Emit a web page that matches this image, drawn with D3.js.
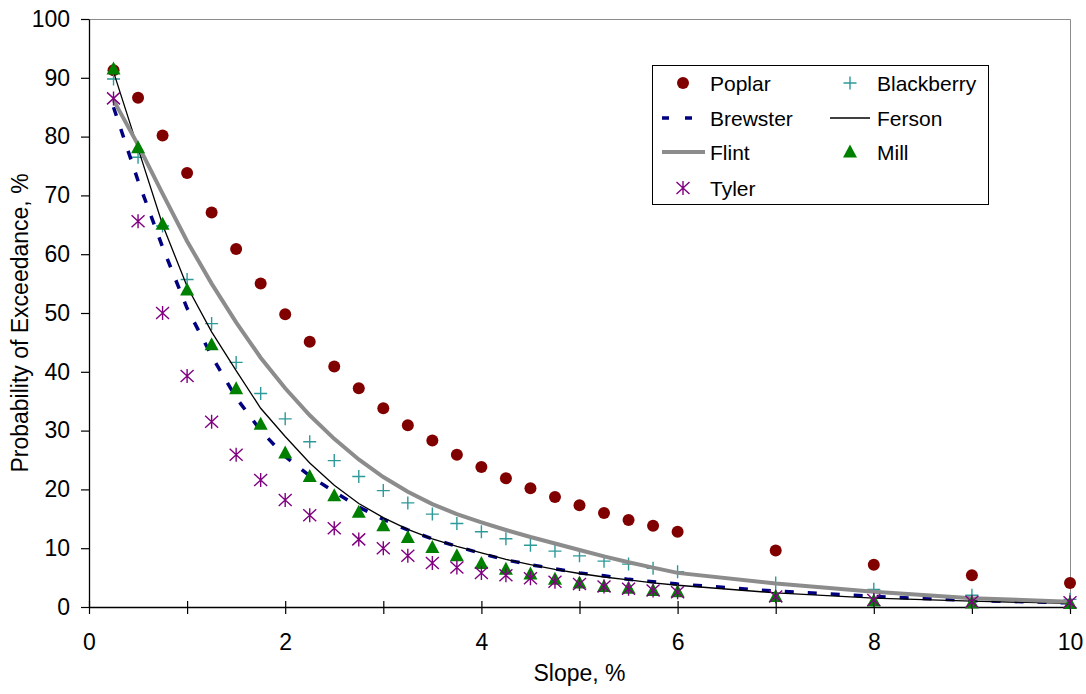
<!DOCTYPE html>
<html>
<head>
<meta charset="utf-8">
<script src="https://cdn.jsdelivr.net/npm/d3@7"></script>
<style>
	body { margin: 0; background: #fff; }
	svg { display: block; font-family: "Liberation Sans", Arial, sans-serif; }
</style>
</head>
<body>
<div id="graphicContainer"></div>
<script>

var slope = [0.25, 0.5, 0.75, 1, 1.25, 1.5, 1.75, 2, 2.25, 2.5, 2.75, 3, 3.25, 3.5, 3.75, 4, 4.25, 4.5, 4.75, 5, 5.25, 5.5, 5.75, 6, 7, 8, 9, 10]

var poplar = [91.3, 86.6, 80.2, 73.8, 67.1, 60.9, 55.0, 49.8, 45.1, 40.9, 37.2, 33.8, 30.9, 28.3, 25.9, 23.8, 21.9, 20.2, 18.7, 17.3, 16.0, 14.8, 13.8, 12.8, 9.6, 7.2, 5.4, 4.1]
var blackberry = [89.8, 76.5, 64.8, 55.7, 48.2, 41.6, 36.3, 32.0, 28.1, 24.9, 22.2, 19.8, 17.7, 15.8, 14.2, 12.8, 11.6, 10.5, 9.5, 8.7, 7.8, 7.3, 6.6, 6.0, 4.1, 3.0, 2.0, 1.3]
var brewster = [85.0, 72.5, 61.2, 50.8, 42.7, 35.6, 30.0, 25.6, 22.3, 19.6, 17.0, 14.9, 13.1, 11.6, 10.3, 9.1, 8.0, 7.2, 6.5, 5.8, 5.3, 4.7, 4.3, 3.9, 2.7, 1.8, 1.1, 0.7]
var ferson = [91.0, 78.0, 65.0, 54.5, 46.8, 40.2, 33.8, 29.0, 24.5, 20.7, 17.6, 15.2, 13.2, 11.6, 10.3, 9.2, 8.1, 7.2, 6.4, 5.7, 5.1, 4.6, 4.1, 3.7, 2.4, 1.5, 1.0, 0.6]
var flint = [86.2, 78.6, 70.3, 62.2, 55.0, 48.4, 42.4, 37.2, 32.6, 28.6, 25.1, 22.1, 19.6, 17.5, 15.8, 14.4, 13.1, 11.9, 10.8, 9.7, 8.6, 7.6, 6.7, 5.8, 4.0, 2.6, 1.5, 0.9]
var mill = [91.5, 78.1, 65.1, 53.9, 44.6, 37.1, 31.1, 26.2, 22.2, 18.9, 16.1, 13.8, 11.8, 10.1, 8.7, 7.4, 6.4, 5.6, 4.7, 4.1, 3.5, 3.2, 2.8, 2.6, 1.8, 1.0, 0.7, 0.6]
var tyler = [86.5, 65.6, 50.0, 39.3, 31.5, 25.9, 21.6, 18.2, 15.6, 13.4, 11.5, 10.0, 8.7, 7.5, 6.7, 5.8, 5.4, 4.9, 4.3, 3.9, 3.5, 3.1, 2.8, 2.5, 1.8, 1.2, 0.9, 0.8]

var yTicks = [0, 10, 20, 30, 40, 50, 60, 70, 80, 90, 100]
var xTicks = [0, 1, 2, 3, 4, 5, 6, 7, 8, 9, 10]

var width = 1086,
	height = 694
var margin = {top: 19, right: 16, bottom: 87, left: 89}

var svg = d3.select("#graphicContainer").append("svg")
	.attr("width", width)
	.attr("height", height)

var x = d3.scaleLinear()
	.domain([0, 10])
	.range([margin.left, width - margin.right])

var y = d3.scaleLinear()
	.domain([0, 100])
	.range([height - margin.bottom, margin.top])

// grey frame on top and right of the plot area
svg.append("path")
	.attr("fill", "none")
	.attr("stroke", "#8c8c8c")
	.attr("stroke-width", 1)
	.attr("d", `M${x(0)},${y(100) + 0.5}H${x(10) + 0.5}V${y(0)}`)

var yAxis = svg.append("g")
	.attr("transform", `translate(${x(0)},0)`)
	.call(d3.axisLeft(y).tickValues(yTicks).tickSize(8).tickPadding(11).tickSizeOuter(0))

yAxis.selectAll("text").attr("font-size", 23).attr("font-family", "Liberation Sans, Arial, sans-serif").attr("fill", "#000")
yAxis.select(".domain").attr("stroke", "#000").attr("stroke-width", 1.3)
yAxis.selectAll(".tick line").attr("stroke", "#000").attr("stroke-width", 1.2)

var xAxis = svg.append("g")
	.attr("transform", `translate(0,${y(0)})`)
	.call(d3.axisBottom(x).tickValues(xTicks).tickSize(7).tickPadding(20).tickSizeOuter(0)
		.tickFormat(d => d % 2 === 0 ? d : ""))

xAxis.selectAll("text").attr("font-size", 23).attr("font-family", "Liberation Sans, Arial, sans-serif").attr("fill", "#000")
xAxis.select(".domain").attr("stroke", "#000").attr("stroke-width", 1.3)
xAxis.selectAll(".tick line").attr("y1", -6).attr("stroke", "#000").attr("stroke-width", 1.2)

svg.append("text")
	.attr("x", (x(0) + x(10)) / 2)
	.attr("y", 681)
	.attr("text-anchor", "middle")
	.attr("font-size", 23)
	.text("Slope, %")

svg.append("text")
	.attr("transform", `translate(28,${(y(0) + y(100)) / 2 + 10}) rotate(-90)`)
	.attr("text-anchor", "middle")
	.attr("font-size", 23)
	.text("Probability of Exceedance, %")

var series = d => slope.map((s, i) => ({x: s, y: d[i]}))

var line = d3.line()
	.x(d => x(d.x))
	.y(d => y(d.y))

var plot = svg.append("g")

// symbol helpers
function circle(g, px, py) {
	g.append("circle").attr("cx", px).attr("cy", py).attr("r", 6).attr("fill", "#800000")
}
function plus(g, px, py) {
	g.append("path")
		.attr("d", `M${px - 6.5},${py}H${px + 6.5}M${px},${py - 6.5}V${py + 6.5}`)
		.attr("stroke", "#2e9999").attr("stroke-width", 1.4).attr("fill", "none")
}
function triangle(g, px, py) {
	g.append("path")
		.attr("d", `M${px},${py - 7.5}L${px + 7},${py + 5.5}L${px - 7},${py + 5.5}Z`)
		.attr("fill", "#008000")
}
function star(g, px, py) {
	g.append("path")
		.attr("d", `M${px - 6.5},${py - 6}L${px + 6.5},${py + 6}M${px - 6.5},${py + 6}L${px + 6.5},${py - 6}M${px},${py - 7}V${py + 7}`)
		.attr("stroke", "#800080").attr("stroke-width", 1.4).attr("fill", "none")
}

function drawPoints(data, fn) {
	var g = plot.append("g")
	series(data).forEach(d => fn(g, x(d.x), y(d.y)))
}

drawPoints(poplar, circle)
drawPoints(blackberry, plus)

plot.append("path")
	.datum(series(brewster))
	.attr("fill", "none")
	.attr("stroke", "#000080")
	.attr("stroke-width", 3.5)
	.attr("stroke-dasharray", "9,14")
	.attr("d", line)

plot.append("path")
	.datum(series(ferson))
	.attr("fill", "none")
	.attr("stroke", "#000")
	.attr("stroke-width", 1.3)
	.attr("d", line)

plot.append("path")
	.datum(series(flint))
	.attr("fill", "none")
	.attr("stroke", "#8c8c8c")
	.attr("stroke-width", 4)
	.attr("d", line)

drawPoints(mill, triangle)
drawPoints(tyler, star)

// legend
var legend = svg.append("g")

legend.append("rect")
	.attr("x", 652.5)
	.attr("y", 65.5)
	.attr("width", 336)
	.attr("height", 139)
	.attr("fill", "#fff")
	.attr("stroke", "#000")
	.attr("stroke-width", 1)

var legendItems = [
	{name: "Poplar", col: 0, row: 0, draw: (g, cx, cy) => circle(g, cx, cy)},
	{name: "Blackberry", col: 1, row: 0, draw: (g, cx, cy) => plus(g, cx, cy)},
	{name: "Brewster", col: 0, row: 1, draw: (g, cx, cy) => g.append("path").attr("d", `M${cx - 21},${cy}H${cx + 9}`).attr("stroke", "#000080").attr("stroke-width", 3.5).attr("stroke-dasharray", "7,16")},
	{name: "Ferson", col: 1, row: 1, draw: (g, cx, cy) => g.append("path").attr("d", `M${cx - 20},${cy}H${cx + 20}`).attr("stroke", "#000").attr("stroke-width", 1.3)},
	{name: "Flint", col: 0, row: 2, draw: (g, cx, cy) => g.append("path").attr("d", `M${cx - 21},${cy}H${cx + 22}`).attr("stroke", "#8c8c8c").attr("stroke-width", 4)},
	{name: "Mill", col: 1, row: 2, draw: (g, cx, cy) => triangle(g, cx, cy)},
	{name: "Tyler", col: 0, row: 3, draw: (g, cx, cy) => star(g, cx, cy)}
]

var colX = [683, 850]
var rowY = [83, 118, 152, 188]

legendItems.forEach(d => {
	var cx = colX[d.col], cy = rowY[d.row]
	d.draw(legend, cx, cy)
	legend.append("text")
		.attr("x", cx + 27)
		.attr("y", cy + 7.5)
		.attr("font-size", 21)
		.text(d.name)
})

</script>
</body>
</html>
